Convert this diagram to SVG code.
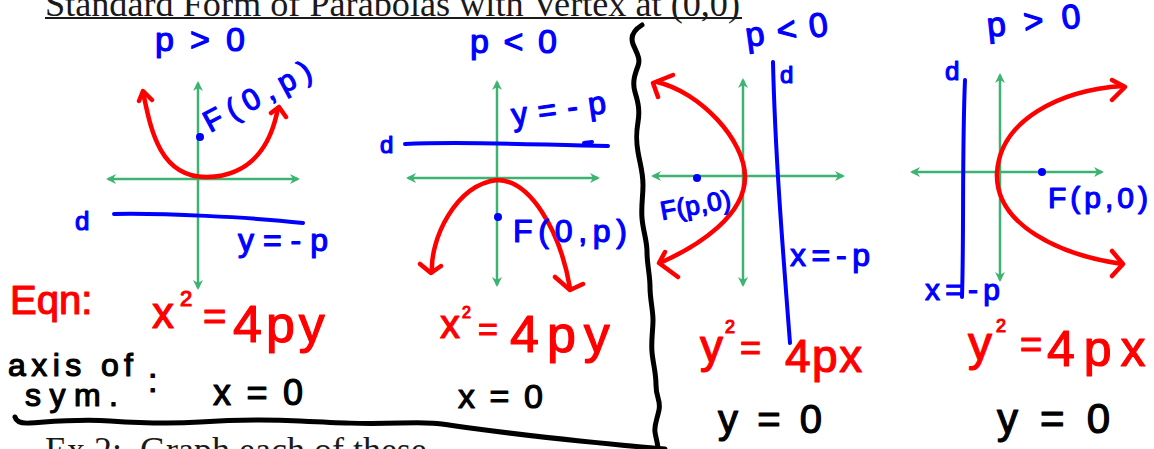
<svg xmlns="http://www.w3.org/2000/svg" width="1154" height="449" viewBox="0 0 1154 449">
<defs>
<style>
.hw{font-family:"Liberation Sans",Arial,sans-serif;stroke-width:1.2;stroke-linejoin:round}
.b{fill:#0000ff;stroke:#0000ff}
.r{fill:#ff0000;stroke:#ff0000}
.k{fill:#000;stroke:#000}
.ax{stroke:#3cb371;stroke-width:2.5;fill:none;marker-start:url(#ga);marker-end:url(#ga)}
.curve{stroke:#ff0000;stroke-width:4.5;fill:none;stroke-linecap:round;stroke-linejoin:round}
.dir{stroke:#0000ff;stroke-width:4;fill:none;stroke-linecap:round}
.ink{stroke:#000;stroke-width:5;fill:none;stroke-linecap:round;stroke-linejoin:round}
.print{font-family:"Liberation Serif","Times New Roman",serif;font-size:36px;fill:#1a1a1a}
.dot{fill:#0000ff}
</style>
<marker id="ga" viewBox="0 0 10 10" refX="8" refY="5" markerWidth="4" markerHeight="4" orient="auto-start-reverse"><path d="M0,0 L10,5 L0,10 L3,5 z" fill="#3cb371"/></marker>
</defs>
<rect width="1154" height="449" fill="#fff"/>

<g id="title">
<text class="print" x="45" y="15.5" textLength="695" lengthAdjust="spacingAndGlyphs">Standard Form of Parabolas with Vertex at (0,0)</text>
<rect x="45" y="17" width="697" height="2" fill="#1a1a1a"/>
</g>

<g id="footer">
<text class="print" x="45" y="462" xml:space="preserve">Ex 2:  Graph each of these</text>
</g>

<g id="dividers">
<path class="ink" d="M642,25 C634,30 630,36 633,44 S641,58 638,66 S632,82 635,92 S640,110 638,122 S636,140 638,152 S643,172 643,185 S641,205 642,218 S647,240 647,252 S650,275 650,287 S653,310 653,320 S651,340 652,352 S656,372 656,385 S661,400 659,410 S654,425 655,432 S658,444 658,449"/>
<path class="ink" d="M15,417 Q17,424 30,423 C60,421 80,419 110,421 S170,424 200,422 S260,419 300,421 S360,424 400,423 S440,424 470,428 S540,437 580,441 S640,447 665,449"/>
</g>

<g id="panel1">
<text class="hw b" x="155" y="51" font-size="34" textLength="90">p&gt;0</text>
<line class="ax" x1="108" y1="179" x2="298" y2="179"/>
<line class="ax" x1="198" y1="83" x2="198" y2="288"/>
<path class="curve" d="M143,92 C150,125 158,178 207,177 C255,176 272,140 278,108"/>
<path class="curve" d="M139,101 L143,91 L152,100 M271,113 L279,107 L286,117"/>
<circle class="dot" cx="200" cy="137" r="4"/>
<text class="hw b" x="210" y="133" font-size="30" textLength="118" transform="rotate(-28 210 133)">F(0,p)</text>
<path class="dir" d="M114,214 C160,213 250,217 303,223"/>
<text class="hw b" x="75" y="230" font-size="26">d</text>
<text class="hw b" x="238" y="251" font-size="32" textLength="90">y=-p</text>
<text class="hw r" x="10" y="314" font-size="40">Eqn:</text>
<text class="hw r"><tspan x="152" y="328" font-size="44">x</tspan><tspan x="180" y="306" font-size="22">2</tspan><tspan x="203" y="330" font-size="40">=</tspan><tspan x="233" y="342" font-size="52" letter-spacing="4">4py</tspan></text>
<text class="hw k" x="8" y="376" font-size="32" textLength="125">axis of</text>
<text class="hw k" x="25" y="406" font-size="32" textLength="93">sym.</text>
<text class="hw k" x="148" y="392" font-size="34">:</text>
<text class="hw k" x="213" y="405" font-size="36" textLength="90">x=0</text>
</g>

<g id="panel2">
<text class="hw b" x="470" y="53" font-size="34" textLength="87">p&lt;0</text>
<line class="ax" x1="408" y1="178" x2="598" y2="178"/>
<line class="ax" x1="497" y1="82" x2="497" y2="285"/>
<path class="dir" d="M405,144 C470,141 540,145 608,146"/>
<path class="dir" d="M584,143 L592,142"/>
<text class="hw b" x="380" y="153" font-size="24">d</text>
<text class="hw b" x="513" y="126" font-size="32" textLength="95" transform="rotate(-8 513 126)">y=-p</text>
<path class="curve" d="M432,272 C430,240 455,185 497,180 C530,180 560,230 570,288"/>
<path class="curve" d="M420,264 L431,273 L441,266 M555,277 L570,290 L583,284"/>
<circle class="dot" cx="498" cy="217" r="4"/>
<text class="hw b" x="513" y="242" font-size="32" textLength="114">F(0,p)</text>
<text class="hw r"><tspan x="440" y="338" font-size="40">x</tspan><tspan x="462" y="318" font-size="16">2</tspan><tspan x="478" y="341" font-size="34">=</tspan><tspan x="510" y="352" font-size="52" letter-spacing="8">4py</tspan></text>
<text class="hw k" x="458" y="408" font-size="34" textLength="85">x=0</text>
</g>

<g id="panel3">
<text class="hw b" x="747" y="47" font-size="34" textLength="83" transform="rotate(-8 747 47)">p&lt;0</text>
<line class="ax" x1="653" y1="176" x2="843" y2="176"/>
<line class="ax" x1="743" y1="80" x2="743" y2="285"/>
<path class="dir" d="M773,62 C775,150 782,240 790,343"/>
<text class="hw b" x="780" y="83" font-size="24">d</text>
<text class="hw b" x="790" y="266" font-size="32" textLength="80">x=-p</text>
<path class="curve" d="M657,82 C700,92 745,140 745,177 C745,215 700,245 662,262"/>
<path class="curve" d="M673,75 L653,83 L658,97 M665,252 L659,263 L678,277"/>
<circle class="dot" cx="697" cy="178" r="4"/>
<text class="hw b" x="662" y="220" font-size="26" textLength="71" transform="rotate(-10 662 220)">F(p,0)</text>
<text class="hw r"><tspan x="700" y="362" font-size="46">y</tspan><tspan x="725" y="333" font-size="18">2</tspan><tspan x="740" y="360" font-size="36">=</tspan><tspan x="785" y="372" font-size="46" letter-spacing="1.5">4px</tspan></text>
<text class="hw k" x="718" y="433" font-size="40" textLength="104">y=0</text>
</g>

<g id="panel4">
<text class="hw b" x="988" y="37" font-size="34" textLength="94" transform="rotate(-6 988 37)">p&gt;0</text>
<line class="ax" x1="912" y1="172" x2="1102" y2="172"/>
<line class="ax" x1="1000" y1="75" x2="1000" y2="280"/>
<path class="dir" d="M965,80 C962,150 964,230 962,297"/>
<text class="hw b" x="945" y="80" font-size="26">d</text>
<text class="hw b" x="925" y="300" font-size="30" textLength="75">x=-p</text>
<path class="curve" d="M1123,86 C1060,90 1000,120 997,173 C995,225 1060,255 1122,264"/>
<path class="curve" d="M1112,80 L1125,87 L1112,100 M1112,251 L1123,264 L1112,276"/>
<circle class="dot" cx="1042" cy="172" r="4"/>
<text class="hw b" x="1048" y="208" font-size="30" textLength="100">F(p,0)</text>
<text class="hw r"><tspan x="968" y="360" font-size="48">y</tspan><tspan x="996" y="332" font-size="18">2</tspan><tspan x="1020" y="358" font-size="38">=</tspan><tspan x="1047" y="366" font-size="50" letter-spacing="9">4px</tspan></text>
<text class="hw k" x="997" y="433" font-size="42" textLength="113">y=0</text>
</g>
</svg>
